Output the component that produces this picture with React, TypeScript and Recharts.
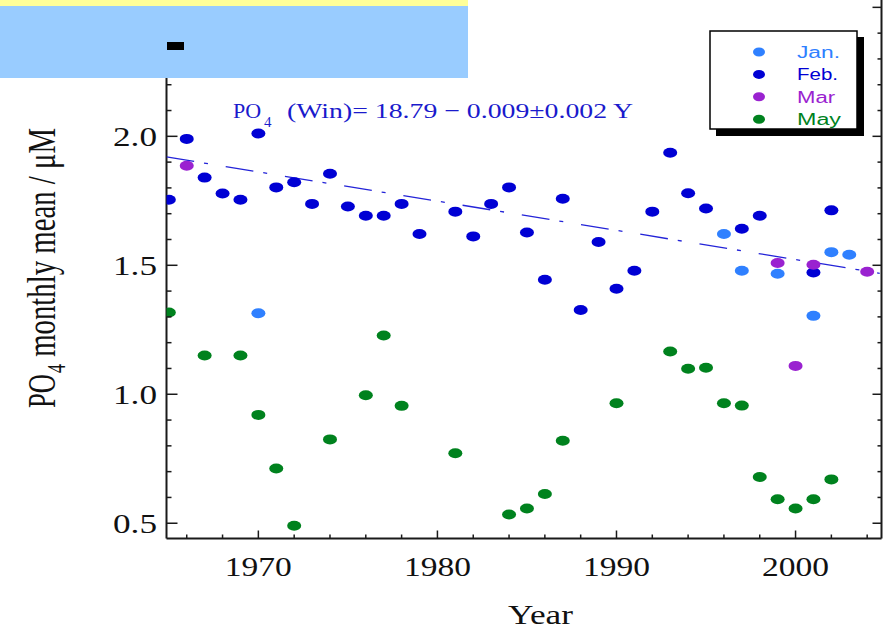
import React from 'react';
import { ScatterChart, Scatter, XAxis, YAxis } from 'recharts';

// ---- data ----
const janYears = [1970, 1996, 1997, 1999, 2001, 2002, 2003];
const janValues = [1.314, 1.621, 1.479, 1.467, 1.304, 1.551, 1.541];

const febYears = [1965, 1966, 1967, 1968, 1969, 1970, 1971, 1972, 1973, 1974, 1975, 1976, 1977, 1978, 1979, 1981, 1982, 1983, 1984, 1985, 1986, 1987, 1988, 1989, 1990, 1991, 1992, 1993, 1994, 1995, 1997, 1998, 2001, 2002];
const febValues = [1.754, 1.99, 1.84, 1.778, 1.754, 2.011, 1.802, 1.822, 1.738, 1.855, 1.728, 1.692, 1.692, 1.738, 1.621, 1.708, 1.612, 1.738, 1.802, 1.627, 1.444, 1.758, 1.327, 1.59, 1.409, 1.479, 1.708, 1.936, 1.779, 1.72, 1.642, 1.692, 1.472, 1.713];

const marYears = [1966, 1999, 2000, 2001, 2004];
const marValues = [1.886, 1.509, 1.11, 1.502, 1.475];

const mayYears = [1965, 1967, 1969, 1970, 1971, 1972, 1974, 1976, 1977, 1978, 1981, 1984, 1985, 1986, 1987, 1990, 1993, 1994, 1995, 1996, 1997, 1998, 1999, 2000, 2001, 2002];
const mayValues = [1.317, 1.15, 1.15, 0.92, 0.712, 0.49, 0.825, 0.996, 1.228, 0.955, 0.771, 0.534, 0.557, 0.613, 0.82, 0.965, 1.166, 1.099, 1.103, 0.965, 0.956, 0.679, 0.593, 0.557, 0.593, 0.67];

// fitted winter trend line (end points)
const trendYears = [1964.87, 2004.7];
const trendValues = [1.92, 1.469];

const seriesNames = ['Jan.', 'Feb.', 'Mar', 'May'];
const seriesColors = ['#2f80ff', '#0000d4', '#9a22d0', '#00821e'];

const xTicks = [1966, 1968, 1970, 1972, 1974, 1976, 1978, 1980, 1982, 1984, 1986, 1988, 1990, 1992, 1994, 1996, 1998, 2000, 2002, 2004];
const xMajorTicks = [1970, 1980, 1990, 2000];
const yTicks = [0.5, 0.6, 0.7, 0.8, 0.9, 1.0, 1.1, 1.2, 1.3, 1.4, 1.5, 1.6, 1.7, 1.8, 1.9, 2.0, 2.1, 2.2, 2.3, 2.4, 2.5];
const yMajorTicks = [0.5, 1.0, 1.5, 2.0, 2.5];
const yLabelTicks = [0.5, 1.0, 1.5, 2.0];

const xDomain = [1964.87, 2004.8];
const yDomain = [0.4408, 2.5285];

const equationMain = '(Win)= 18.79 \u2212 0.009\u00b10.002 Y';
const yTitleRest = ' monthly mean / \u03bcM';

// ---- helpers ----
const toPoints = (xs: number[], ys: number[]) => xs.map((x, i) => ({ x, y: ys[i] }));
const seriesData = [
  toPoints(janYears, janValues),
  toPoints(febYears, febValues),
  toPoints(marYears, marValues),
  toPoints(mayYears, mayValues),
];
const trendData = toPoints(trendYears, trendValues);

const SERIF = '"Liberation Serif", "Times New Roman", serif';
const SANS = '"Liberation Sans", Arial, sans-serif';
const AXIS = '#1a1a1a';

const inList = (v: number, list: number[]) => list.some((m) => Math.abs(m - v) < 1e-6);

const XTick = (props: any) => {
  const { x, y, payload } = props;
  const v = payload.value;
  const major = inList(v, xMajorTicks);
  return (
    <g>
      <line x1={x} y1={y} x2={x} y2={y - (major ? 8 : 4)} stroke={AXIS} strokeWidth={1.5} />
      {major && (
        <text x={x} y={y + 37} textAnchor="middle" fontFamily={SERIF} fontSize={27} fill="#111"
          textLength={67} lengthAdjust="spacingAndGlyphs">{v}</text>
      )}
    </g>
  );
};

const YTickLeft = (props: any) => {
  const { x, y, payload } = props;
  const v = payload.value;
  const major = inList(v, yMajorTicks);
  return (
    <g>
      <line x1={x} y1={y} x2={x + (major ? 11 : 5)} y2={y} stroke={AXIS} strokeWidth={1.5} />
      {inList(v, yLabelTicks) && (
        <text x={x - 9.5} y={y + 10} textAnchor="end" fontFamily={SERIF} fontSize={27} fill="#111"
          textLength={44} lengthAdjust="spacingAndGlyphs">{v.toFixed(1)}</text>
      )}
    </g>
  );
};

const YTickRight = (props: any) => {
  const { x, y, payload } = props;
  const major = inList(payload.value, yMajorTicks);
  return <line x1={x} y1={y} x2={x - (major ? 9 : 4)} y2={y} stroke={AXIS} strokeWidth={1.5} />;
};

const makeDot = (color: string) => (p: any) => (
  <ellipse cx={p.cx} cy={p.cy} rx={7} ry={5} fill={color} />
);

export default function App() {
  return (
    <div style={{ position: 'absolute', left: 0, top: 0, width: 883, height: 629, background: '#fff', overflow: 'hidden' }}>
      <ScatterChart width={883} height={629} margin={{ top: 0, right: 0, bottom: 0, left: 0 }}>
        <XAxis xAxisId={0} type="number" dataKey="x" domain={xDomain} ticks={xTicks} interval={0}
          tickSize={0} tickMargin={0} tickLine={false} height={90.5} allowDataOverflow
          axisLine={{ stroke: AXIS, strokeWidth: 2 }} tick={(p: any) => <XTick {...p} />} />
        <YAxis yAxisId="l" type="number" dataKey="y" domain={yDomain} ticks={yTicks} interval={0}
          tickSize={0} tickMargin={0} tickLine={false} width={166.5} allowDataOverflow
          axisLine={{ stroke: AXIS, strokeWidth: 2 }} tick={(p: any) => <YTickLeft {...p} />} />
        <YAxis yAxisId="r" orientation="right" type="number" dataKey="y" domain={yDomain} ticks={yTicks} interval={0}
          tickSize={0} tickMargin={0} tickLine={false} width={1.5} allowDataOverflow
          axisLine={{ stroke: AXIS, strokeWidth: 2 }} tick={(p: any) => <YTickRight {...p} />} />
        <Scatter yAxisId="r" data={trendData} isAnimationActive={false} lineType="joint"
          line={{ stroke: '#2424d8', strokeWidth: 1.3, strokeDasharray: '28 10 4 18' }}
          shape={() => <g />} />
        {seriesData.map((d, i) => (
          <Scatter key={seriesNames[i]} name={seriesNames[i]} yAxisId="l" data={d}
            isAnimationActive={false} shape={makeDot(seriesColors[i])} />
        ))}
      </ScatterChart>

      <svg width={883} height={629} style={{ position: 'absolute', left: 0, top: 0, pointerEvents: 'none' }}>
        {/* top-left overlay bands */}
        <rect x={0} y={0} width={468} height={6} fill="#ffff99" />
        <rect x={0} y={6} width={468} height={72} fill="#99ccff" />
        <rect x={167} y={42} width={17} height={8} fill="#000" />

        {/* equation */}
        <text x={233} y={118} fontFamily={SERIF} fontSize={22} fill="#1a1acc">
          <tspan>PO</tspan>
          <tspan x={264} y={127} fontSize={15}>4</tspan>
          <tspan x={287} y={118} textLength={346} lengthAdjust="spacingAndGlyphs">{equationMain}</tspan>
        </text>

        {/* y axis title */}
        <g transform="translate(55,408) scale(1.4,1) rotate(-90)">
          <text x={0} y={0} fontFamily={SERIF} fontSize={28} fill="#111">
            <tspan textLength={34} lengthAdjust="spacingAndGlyphs">PO</tspan>
            <tspan dx={1} dy={7} fontSize={18}>4</tspan>
            <tspan dy={-7} textLength={236} lengthAdjust="spacingAndGlyphs">{yTitleRest}</tspan>
          </text>
        </g>

        {/* x axis title */}
        <text x={540.5} y={624} textAnchor="middle" fontFamily={SERIF} fontSize={27} fill="#111"
          textLength={65} lengthAdjust="spacingAndGlyphs">Year</text>

        {/* legend */}
        <rect x={716} y={37} width={148} height={99} fill="#000" />
        <rect x={710} y={31} width={147} height={98} fill="#fff" stroke="#000" strokeWidth={1.5} />
        {seriesNames.map((n, i) => (
          <g key={n}>
            <ellipse cx={759} cy={52 + i * 22.4} rx={6} ry={4.5} fill={seriesColors[i]} />
            <text x={797} y={58 + i * 22.4} fontFamily={SANS} fontSize={16} fill={seriesColors[i]}
              textLength={[43, 41, 38, 44][i]} lengthAdjust="spacingAndGlyphs">{n}</text>
          </g>
        ))}
      </svg>
    </div>
  );
}
